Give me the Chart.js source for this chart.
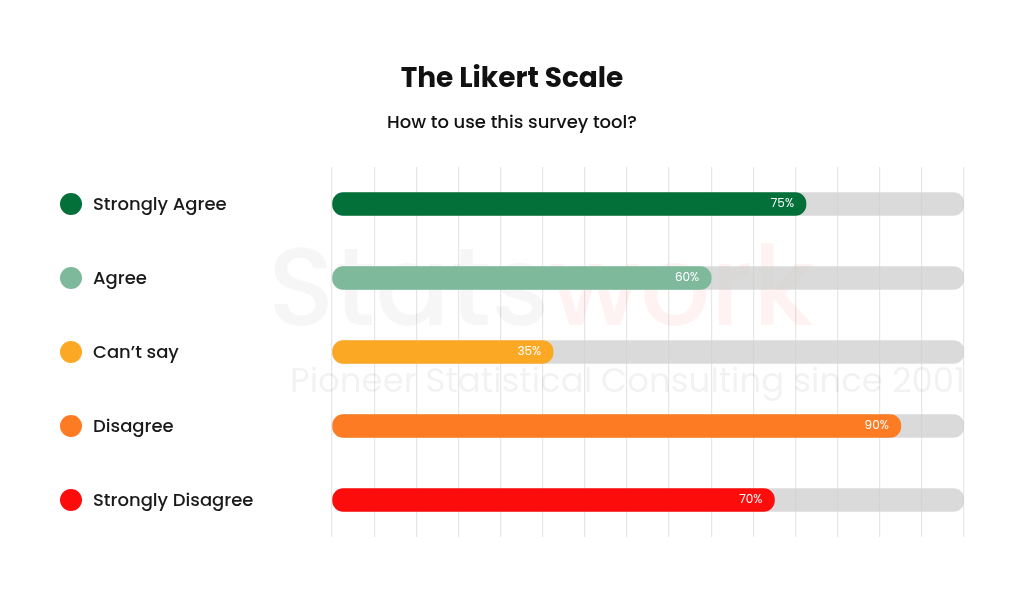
<!DOCTYPE html>
<html>
<head>
<meta charset="utf-8">
<script src="https://cdn.jsdelivr.net/npm/chart.js@4"></script>
<style>
  html, body { margin: 0; padding: 0; background: #fff; }
  #wrap { width: 1024px; height: 597px; }
</style>
</head>
<body>
<div id="wrap"><canvas id="likertChart"></canvas></div>
<script>
// --- data ---
const categories = ['Strongly Agree', 'Agree', 'Can\u2019t say', 'Disagree', 'Strongly Disagree'];
const values = [75, 60, 35, 90, 70];
const trackValues = [100, 100, 100, 100, 100];
const colors = ['#03703a', '#7fb99c', '#fba924', '#fd7b23', '#fd0c0c'];

const FONT = "'Poppins', 'Inter', 'Noto Sans', sans-serif";

// titles, watermark, left legend labels and value labels
const decorPlugin = {
    id: 'decor',
    beforeDatasetsDraw(chart) {
        const c = chart.ctx;
        c.save();
        c.font = "500 110px " + FONT;
        c.textBaseline = 'alphabetic';
        c.textAlign = 'left';
        c.fillStyle = 'rgba(0,0,0,0.035)';
        c.fillText('Stats', 268, 325);
        const w = c.measureText('Stats').width;
        c.fillStyle = 'rgba(230,30,30,0.06)';
        c.fillText('work', 268 + w, 325);
        c.font = "34px " + FONT;
        c.fillStyle = 'rgba(0,0,0,0.05)';
        c.fillText('Pioneer Statistical Consulting since 2001', 290, 392);
        c.restore();
    },
    afterDatasetsDraw(chart) {
        const c = chart.ctx;
        const yScale = chart.scales.y;
        const xScale = chart.scales.x;
        c.save();
        c.fillStyle = '#111';
        c.textAlign = 'center';
        c.textBaseline = 'middle';
        c.font = "bold 28px " + FONT;
        c.fillText('The Likert Scale', 512, 80);
        c.font = "500 18px " + FONT;
        c.fillText('How to use this survey tool?', 512, 123);

        categories.forEach((cat, i) => {
            const y = yScale.getPixelForValue(i);
            c.beginPath();
            c.arc(71, y, 11, 0, Math.PI * 2);
            c.fillStyle = colors[i];
            c.fill();
            c.fillStyle = '#1a1a1a';
            c.textAlign = 'left';
            c.font = "500 18px " + FONT;
            c.fillText(cat, 93, y + 1);

            c.fillStyle = '#fff';
            c.textAlign = 'right';
            c.font = "12px " + FONT;
            c.fillText(values[i] + '%', xScale.getPixelForValue(values[i]) - 12, y);
        });
        c.restore();
    }
};

new Chart(document.getElementById('likertChart'), {
    type: 'bar',
    data: {
        labels: categories,
        datasets: [
            {
                label: 'Value',
                data: values,
                backgroundColor: colors,
                borderRadius: 11,
                borderSkipped: false,
                barThickness: 23,
                grouped: false,
                order: 1
            },
            {
                label: 'Track',
                data: trackValues,
                backgroundColor: 'rgba(205,205,205,0.75)',
                borderRadius: 11,
                borderSkipped: false,
                barThickness: 23,
                grouped: false,
                order: 2
            }
        ]
    },
    options: {
        indexAxis: 'y',
        responsive: true,
        maintainAspectRatio: false,
        animation: false,
        layout: { padding: { left: 332, right: 60, top: 167, bottom: 60 } },
        scales: {
            x: {
                min: 0,
                max: 100,
                border: { display: false },
                grid: { color: '#e6e6e6', lineWidth: 1.2, drawTicks: false },
                ticks: { display: false, stepSize: 100 / 15 }
            },
            y: {
                display: false
            }
        },
        plugins: {
            legend: { display: false },
            tooltip: { enabled: false }
        }
    },
    plugins: [decorPlugin]
});
</script>
</body>
</html>
